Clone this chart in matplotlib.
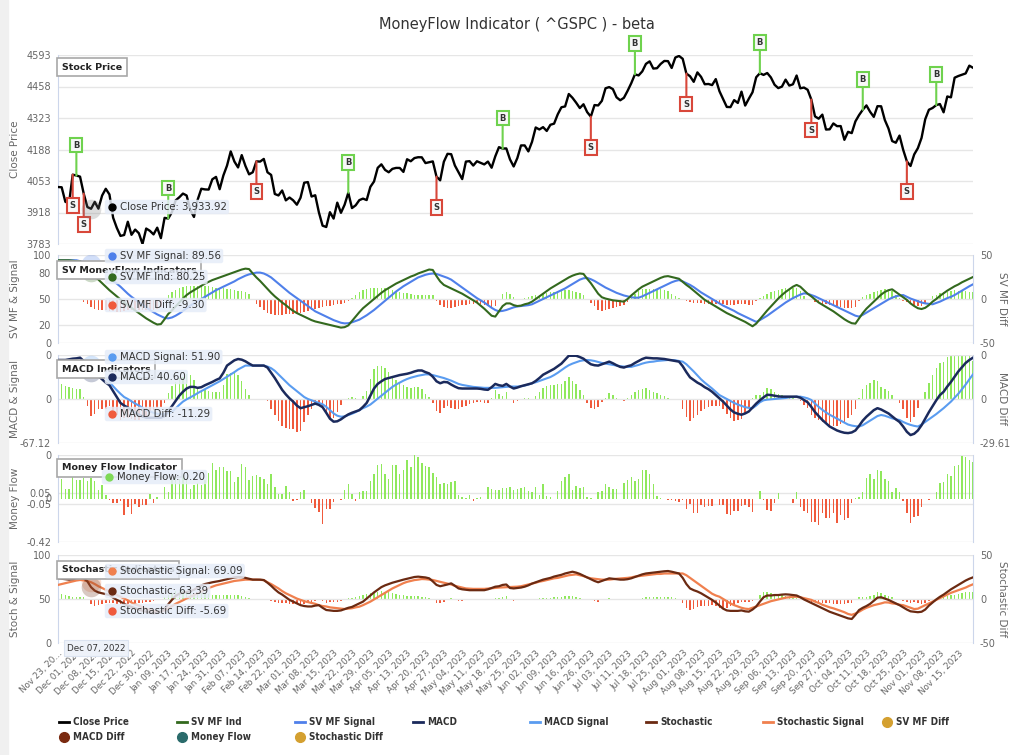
import numpy as np
import matplotlib
matplotlib.use("Agg")
import matplotlib.pyplot as plt
from matplotlib.lines import Line2D
from matplotlib.patches import Rectangle

plt.rcParams['font.family'] = ['DejaVu Sans']

# ---- data (one value per trading day, Nov 23 2022 .. Nov 21 2023) ----
close = [
    4027.26, 4026.12, 3963.94, 3957.63, 4080.11, 4076.57, 4071.70, 3998.84, 3941.26, 3933.92,
    3963.51, 3934.38, 3990.56, 4019.65, 3995.32, 3895.75, 3852.36, 3817.66, 3821.62, 3878.44,
    3822.39, 3844.82, 3829.25, 3783.22, 3849.28, 3839.50, 3824.14, 3852.97, 3808.10, 3895.08,
    3892.09, 3919.25, 3969.61, 3983.17, 3999.09, 3990.97, 3928.86, 3898.85, 3972.61, 4019.81,
    4016.95, 4016.22, 4060.43, 4070.56, 4017.77, 4076.60, 4119.21, 4179.76, 4136.48, 4111.08,
    4164.00, 4117.86, 4081.50, 4090.46, 4137.29, 4136.13, 4147.60, 4090.41, 4079.09, 3997.34,
    3991.05, 4012.32, 3970.04, 3982.24, 3970.15, 3951.39, 3981.35, 4045.64, 4048.42, 3986.37,
    3992.01, 3918.32, 3861.59, 3855.76, 3919.29, 3891.93, 3960.28, 3916.64, 3951.57, 4002.87,
    3936.97, 3948.72, 3970.99, 3977.53, 3971.27, 4027.81, 4050.83, 4109.31, 4124.51, 4100.60,
    4090.38, 4105.02, 4109.11, 4108.94, 4091.95, 4146.22, 4137.64, 4151.32, 4154.87, 4154.52,
    4129.79, 4133.52, 4137.04, 4071.63, 4055.99, 4135.35, 4169.48, 4167.87, 4119.58, 4090.75,
    4061.22, 4136.25, 4138.12, 4119.17, 4137.64, 4130.62, 4124.08, 4136.28, 4109.90, 4158.77,
    4198.05, 4191.98, 4192.63, 4145.58, 4115.24, 4151.28, 4205.45, 4205.52, 4179.83, 4221.02,
    4282.37, 4273.79, 4283.85, 4267.52, 4293.93, 4298.86, 4338.93, 4369.01, 4372.59, 4425.84,
    4409.59, 4388.71, 4365.69, 4381.89, 4348.33, 4328.82, 4378.41, 4376.86, 4396.44, 4450.38,
    4455.59, 4446.82, 4411.59, 4398.95, 4409.53, 4439.26, 4472.16, 4510.04, 4505.42, 4522.79,
    4554.98, 4565.72, 4534.87, 4536.34, 4554.64, 4567.46, 4566.75, 4537.41, 4582.23, 4588.96,
    4576.73, 4513.39, 4501.89, 4478.03, 4518.44, 4499.38, 4467.71, 4468.83, 4464.05, 4489.72,
    4437.86, 4404.33, 4370.36, 4369.71, 4399.77, 4387.55, 4436.01, 4376.31, 4405.71, 4433.31,
    4497.63, 4514.87, 4507.66, 4515.77, 4496.83, 4465.48, 4451.14, 4457.49, 4487.46, 4461.90,
    4467.44, 4505.10, 4450.32, 4453.53, 4443.95, 4402.20, 4330.00, 4320.06, 4337.44, 4273.53,
    4274.51, 4299.70, 4288.05, 4288.39, 4229.45, 4263.75, 4258.19, 4308.50, 4335.66, 4358.24,
    4376.95, 4349.61, 4327.78, 4373.63, 4373.20, 4314.60, 4278.00, 4224.16, 4217.04, 4247.68,
    4186.77, 4137.23, 4117.37, 4166.82, 4193.80, 4237.86, 4317.78, 4358.34, 4365.98, 4378.38,
    4382.78, 4347.35, 4415.24, 4411.55, 4495.70, 4502.88, 4508.24, 4514.02, 4547.38, 4538.19,
]

sv_ind = [
    94, 94, 94, 94, 93.5, 93, 93, 89, 85, 80.25,
    76, 72, 68, 64, 60, 56.5, 53, 49.5, 46, 43,
    40, 37, 34, 31, 28, 25.5, 23, 21, 21.5, 27,
    33, 37, 41.5, 46, 50.5, 54.5, 57.5, 60, 62.5, 65,
    67.5, 69.5, 71.5, 73, 74.5, 76, 77.5, 79, 80.5, 82,
    83.5, 84.5, 84, 79, 74.5, 70.5, 66, 61.5, 57, 53,
    49.5, 46, 43, 39.5, 36.5, 34, 32, 30, 28, 26,
    24.5, 23.5, 22.5, 21.5, 20.5, 19.5, 18.5, 17.5, 18, 20,
    25, 30, 35, 39.5, 43, 46.5, 50, 53.5, 57, 60,
    62.5, 65, 67.5, 69.5, 71.5, 73.5, 75.5, 77, 79, 80.5,
    82, 83.5, 83, 76, 70, 66, 64, 62, 60, 58,
    56, 53.5, 51, 48.5, 46, 42.5, 39, 35, 31, 30,
    36, 42, 45, 45, 43, 42, 42.5, 44, 45, 47,
    50, 53, 56, 59, 62, 64.5, 67, 69.5, 72, 74.5,
    76.5, 78, 79, 78.5, 73, 68, 62, 56, 52, 50.5,
    49.5, 48.5, 48, 47.5, 47, 50, 54, 57.5, 61, 64,
    66, 68, 70, 72, 74, 75.5, 76, 75, 74, 73,
    69.5, 66, 63, 59.5, 56, 52.5, 49, 46.5, 44, 41.5,
    39, 36.5, 34, 32, 30, 28, 26, 24, 21.5, 19,
    22, 27, 32, 37, 41.5, 46, 50.5, 54.5, 58, 61,
    64, 66, 64, 60, 56, 53, 49.5, 46, 43.5, 41,
    38.5, 36, 33, 30, 27, 24.5, 22.5, 22, 28, 34,
    39, 43, 47, 51, 55, 58, 60, 61, 58, 55,
    52, 49, 45, 42, 39.5, 38.6, 40, 43, 47, 50,
    53.5, 56.5, 59.5, 62, 64.5, 66.5, 69, 71, 73, 75,
]

sv_sig = [
    94, 94, 94, 94, 94, 94, 93, 92, 91, 89.56,
    87, 84, 80.5, 77, 73.5, 70.5, 67.5, 64, 60, 56,
    52.5, 49.5, 46.5, 43.5, 40.5, 37.5, 35, 32.5, 30.5, 28.5,
    28, 29, 31, 33.5, 36.5, 39.5, 42.5, 45, 47.5, 50,
    52.5, 55, 57.5, 60, 62, 64, 66, 68, 70, 72.5,
    74.5, 76.5, 78, 79, 80, 80, 79, 77, 74.5, 71,
    67.5, 64, 60.5, 57, 54, 51, 48, 45, 42, 39,
    36, 34, 32, 30, 28, 26, 24.5, 23, 22.3, 22.5,
    23.5, 25, 26.5, 29, 31.5, 34.5, 37.5, 41, 44.5, 48,
    51.5, 55, 58.5, 61.5, 64.5, 67, 69.5, 72, 74.5, 76,
    77.5, 78.5, 79, 78.5, 77, 75.5, 74, 72, 69, 66,
    63, 60, 57, 54, 51, 48.5, 46, 43, 40, 37.5,
    36, 36.5, 37.5, 39, 40.5, 41.5, 42, 42.5, 43, 44,
    46, 48, 50, 52, 54, 56, 58, 60, 62, 64.5,
    67, 69.5, 72, 73.5, 74, 72.5, 70.5, 68, 65.5, 63,
    61, 59, 57, 55.5, 54, 53, 52, 51.5, 51.5, 53,
    55, 57, 59, 61, 63, 65, 67, 69, 70.5, 71.5,
    70, 68, 66, 63.5, 60.5, 57.5, 55, 52.5, 50, 47.5,
    45, 42.5, 40.5, 38.5, 36.5, 34, 32, 30, 28, 26,
    24, 26, 28.5, 31, 34, 37, 40, 43, 46, 48.5,
    51, 53, 55, 56.4, 56, 54.5, 53, 51, 49, 47,
    45, 43, 41, 39, 37, 35, 33, 31, 30, 32,
    34.5, 37, 39.5, 42, 44.5, 47, 49.5, 51.5, 53, 54,
    54.5, 52.5, 50.5, 49, 47.5, 46, 45, 44.5, 44, 45.5,
    47, 49, 51, 52.5, 54.5, 57, 59.5, 62, 64.5, 66.7,
]

macd = [
    59.5, 59.5, 59.5, 60.5, 61.5, 62, 63, 58, 50, 40.6,
    37, 35, 30, 25, 21, 12, 3, -6, -10, -13,
    -17, -21, -24, -26.5, -28.5, -28.5, -28.5, -28.5, -28.5, -26,
    -18, -11, -3, 5, 11, 16, 18.5, 18.5, 17, 18,
    21, 23.5, 26, 29, 31.5, 40, 51, 55, 59, 61,
    60, 57.5, 54, 51, 51, 51, 51, 48, 40, 32,
    23, 14, 7, 1, -4, -10, -14, -12.5, -11, -9,
    -7, -9, -12.5, -21, -30, -34.6, -34, -31, -27, -23.5,
    -21, -19, -17, -12, -6, 5, 16, 23, 27, 30.5,
    32, 33.5, 35, 36.5, 37.5, 38.5, 40, 42, 43.5, 43.5,
    41, 39, 34, 27, 24, 26, 25.5, 22, 19, 16.5,
    16, 16, 16, 16, 16, 15.5, 14.5, 14, 18, 23,
    21, 20, 23, 19, 16, 17.5, 19.5, 21, 22.5, 24,
    27.5, 32, 37, 40, 43, 46, 50, 54, 60, 66,
    66, 66, 64, 61.5, 57, 53, 51.5, 51, 53, 55,
    57, 54.5, 51.5, 49, 48, 50, 51.5, 55, 58, 61,
    63, 62.5, 62, 62, 61.5, 61, 60, 59, 58, 57,
    50, 41, 33, 29, 25, 22, 18, 15, 11, 6,
    1, -4, -10, -16, -20.5, -22.5, -24, -22, -19, -13,
    -7, -2, 2.5, 6.5, 6, 5, 4, 3.6, 3.6, 3.6,
    3.6, 3.6, 2, -1.5, -5, -12, -20, -26, -32, -37,
    -42, -45, -48, -50, -51.5, -52, -51, -48, -41, -33,
    -27, -22, -17, -14, -16, -19, -22, -26.5, -31, -35,
    -42, -50, -55, -53, -48, -40, -30, -20, -11, -2,
    6, 11, 19, 26, 34, 42, 48.5, 55, 59.5, 63,
]

macd_sig = [
    48, 49.5, 51, 52.5, 54, 55, 56, 56.5, 54.5, 51.9,
    47, 42, 37, 32, 26, 19.5, 13.5, 8, 3, 0,
    -3.5, -7, -10, -13.5, -16.5, -19, -21, -22.5, -23.4, -23,
    -22, -19.5, -14.5, -9, -4, -0.5, 2.5, 5.5, 9, 12,
    15, 18, 21, 24, 27, 30.5, 34, 37.5, 41, 45,
    48, 51, 51, 51, 51, 51, 51, 49.5, 47, 43,
    37.5, 32, 26.5, 21, 16.5, 12, 7.5, 3, 0, -2,
    -4, -6, -8, -12, -17, -22, -25.5, -27, -26.5, -24.5,
    -22.5, -20, -17, -14, -11.5, -8.5, -4, 0.5, 5, 9.5,
    14, 18.5, 22, 25, 28, 30.5, 32.5, 34, 35.5, 36.5,
    37.6, 37.5, 36.5, 35, 33.5, 32, 30, 28, 25.5, 23,
    21.5, 20.5, 19.5, 18.5, 18, 17.5, 17, 17, 17, 17,
    17.5, 18, 18.5, 19, 19, 19, 19.5, 20.5, 22, 24,
    25.5, 27.5, 29.5, 31.5, 33.5, 36.5, 40, 44, 48, 51.5,
    54, 56, 58, 59, 59.5, 59, 58, 56.5, 55, 54,
    53, 52, 51, 50, 49.5, 49, 49, 50.5, 52, 54,
    55.5, 56.5, 57, 58, 58.5, 59, 59.5, 59.5, 59, 58,
    57, 53, 47.5, 42, 36, 30, 25, 20.5, 16, 11,
    6, 3, 0, -3, -6, -8.5, -10.5, -12.5, -13.5, -14,
    -10, -5, -2, -1, -0.5, 0, 0.5, 1, 1.5, 2.5,
    3, 3.5, 3.6, 2.5, 1, -1.5, -7, -12, -16.5, -20.5,
    -24, -27, -30, -33, -36, -39, -40.5, -41.5, -42, -40,
    -36.5, -33, -29.5, -26, -24.4, -25.5, -27.5, -29.5, -31, -32,
    -35, -37.5, -39.5, -41, -42, -39, -35, -31, -27, -23,
    -18.5, -14, -9, -4, 2, 8, 15, 22, 30, 37.6,
]

money_flow = [
    0.227, 0.185, 0.09, 0.09, 0.27, 0.18, 0.18, 0.195, 0.17, 0.20,
    0.17, 0.08, 0.13, 0.034, -0.015, -0.04, -0.047, -0.02, -0.16, -0.08,
    -0.15, -0.053, -0.085, -0.063, -0.063, 0.043, -0.04, 0.018, -0.005, 0.108,
    0.066, 0.18, 0.237, 0.185, 0.227, 0.185, 0.089, 0.13, 0.153, 0.13,
    0.18, 0.25, 0.346, 0.28, 0.30, 0.30, 0.27, 0.27, 0.16, 0.204,
    0.333, 0.307, 0.18, 0.217, 0.227, 0.204, 0.185, 0.14, 0.237, 0.108,
    0.043, 0.043, 0.12, 0.066, -0.02, -0.015, 0.066, 0.082, -0.005, -0.047,
    -0.095, -0.127, -0.246, -0.105, -0.105, -0.03, 0.0, -0.015, 0.082, 0.14,
    0.043, -0.02, 0.066, 0.076, 0.076, 0.172, 0.237, 0.323, 0.333, 0.237,
    0.185, 0.323, 0.323, 0.237, 0.28, 0.372, 0.307, 0.43, 0.397, 0.346,
    0.314, 0.30, 0.25, 0.21, 0.14, 0.146, 0.14, 0.163, 0.172, 0.034,
    0.018, 0.002, 0.034, -0.02, 0.003, 0.011, 0.0, 0.108, 0.089, 0.082,
    0.082, 0.098, 0.098, 0.108, 0.082, 0.089, 0.098, 0.114, 0.076, 0.066,
    0.114, 0.034, 0.14, 0.024, 0.011, 0.0, 0.076, 0.172, 0.204, 0.237,
    0.082, 0.12, 0.098, 0.114, 0.018, 0.002, 0.0, 0.066, 0.076, 0.14,
    0.114, 0.089, 0.089, 0.0, 0.146, 0.179, 0.204, 0.172, 0.185, 0.275,
    0.275, 0.237, 0.14, 0.024, 0.008, 0.0, -0.015, -0.015, -0.024, -0.037,
    -0.015, -0.105, -0.056, -0.143, -0.143, -0.063, -0.079, -0.072, -0.072, -0.005,
    -0.063, -0.063, -0.15, -0.163, -0.117, -0.117, -0.072, -0.063, -0.085, -0.13,
    -0.008, 0.076, -0.015, -0.111, -0.117, -0.047, 0.05, 0.0, 0.0, 0.0,
    -0.047, 0.066, -0.085, -0.12, -0.137, -0.224, -0.224, -0.256, -0.137, -0.185,
    -0.19, -0.143, -0.233, -0.16, -0.208, -0.19, -0.04, 0.002, 0.018, 0.066,
    0.195, 0.237, 0.185, 0.28, 0.27, 0.185, 0.172, 0.066, 0.098, 0.066,
    -0.02, -0.143, -0.233, -0.175, -0.169, -0.085, 0.0, -0.015, 0.0, 0.066,
    0.153, 0.163, 0.237, 0.217, 0.314, 0.323, 0.41, 0.397, 0.372, 0.356,
]

stoch = [
    73.5, 73, 72.5, 72, 72.5, 73.5, 74, 73.5, 70, 63.39,
    59.5, 57.5, 56.5, 55.5, 54.5, 51.5, 49, 47, 44.5, 42.5,
    41, 39.5, 38, 36.5, 35.5, 34.5, 33.7, 34.5, 36, 39,
    44, 49, 53.5, 56, 57.5, 58, 59, 60.5, 63, 65.5,
    67, 68, 69, 69.7, 70.5, 71.5, 72.5, 73.5, 74.5, 75,
    74.8, 74, 73, 72, 72, 72, 71.5, 68.5, 65, 61,
    57.5, 55, 52, 49, 47, 45, 43, 42, 41.5, 41.5,
    42.5, 43, 40, 37.5, 37, 36.5, 36.5, 37, 38.5, 40,
    41, 43, 45, 47, 50.5, 54, 57.5, 60.5, 63.5, 65.5,
    67, 68.5, 69.7, 71, 72, 73, 74, 75, 75.4, 75,
    74.5, 73.5, 70, 66, 64.5, 65.5, 66.5, 67.8, 65, 62,
    61, 60.5, 60, 60, 60, 60, 60, 61, 62.5, 64,
    64.5, 66, 66.5, 62.5, 62, 62.5, 63, 64, 65.5, 67.5,
    69, 70.5, 72, 73, 74, 75.5, 76.5, 77.5, 79, 80,
    81, 80, 78.5, 76.5, 74.5, 72.5, 70.5, 69, 70.5, 72,
    73.5, 73, 72.5, 72, 72, 72.5, 73.5, 75, 76.5, 78,
    79, 79.5, 80, 80.5, 81, 81.5, 81.8, 81, 80, 79,
    74, 67, 62, 60, 58.5, 56.5, 54, 51.5, 49, 46,
    42.5, 39, 37, 36.5, 36.5, 36.5, 37, 36, 35.6, 38,
    41.5, 47, 52, 54, 54, 54.5, 54.5, 55, 55.3, 55,
    54.5, 54, 52, 49.5, 47.5, 45.5, 43.5, 41.5, 39.5, 37.5,
    35.5, 34, 32.5, 31, 29.5, 28, 27.3, 32, 37.5, 40,
    42, 44.5, 48, 51.5, 52, 50.5, 49, 47, 45, 43,
    40.5, 38, 36, 35.5, 35, 35.5, 38, 42.5, 46, 49.5,
    52.5, 55, 58, 61, 63.5, 66, 68.5, 71, 73, 74.6,
]

stoch_sig = [
    66, 67, 68, 69, 70, 71, 71.6, 71.2, 70.3, 69.09,
    67, 64.5, 62.5, 60.5, 58.5, 56.5, 54.5, 52.5, 50.5, 48.5,
    46, 44, 42.5, 40.5, 39, 37.5, 36.5, 35.8, 35.6, 37,
    39.5, 42, 44.5, 46.5, 48.5, 50.7, 52.5, 54.5, 56.5, 58.5,
    60.5, 62.5, 64, 65.5, 66.5, 67.5, 68.5, 69.5, 70.5, 71,
    71.5, 72, 72, 72, 72, 71.8, 71.5, 69, 67, 64.5,
    62, 59, 56.5, 54.5, 52.5, 50.5, 49, 47.5, 46.5, 45.5,
    44.5, 43, 42, 41.5, 40.5, 40, 39.5, 39, 38.6, 39,
    39.5, 40.5, 41.3, 43, 45, 47, 49.5, 52, 54.5, 57,
    59.5, 62, 64, 66, 68, 69.5, 70.5, 71.5, 72, 72.7,
    72.5, 72, 71.6, 70.5, 69.5, 68.5, 67.5, 66.5, 65, 64,
    63, 62, 61.7, 61.5, 61.5, 61.5, 61.5, 61.8, 62.2, 62.6,
    63, 63.2, 63.5, 63.7, 63.8, 64, 64.5, 65.5, 66.5, 67.5,
    68.5, 69.7, 70.5, 71.5, 72.5, 73.5, 74, 75, 76, 77,
    77.5, 78, 77, 76, 74.5, 73.5, 73, 72.5, 72, 72,
    72, 72.5, 73, 73.3, 73.5, 74, 74.5, 75.5, 76, 76.5,
    77, 77.5, 78, 78.5, 78.5, 79, 79, 79, 79, 79,
    79, 77, 74, 71, 68, 65, 62, 59, 56, 54,
    52.6, 50, 47.5, 45, 43, 41.5, 40, 39, 38.6, 40,
    41.5, 43, 44.5, 46, 47.5, 48.5, 49.5, 50.5, 51.5, 52,
    52.5, 52.6, 52, 51, 50, 49, 47, 45.5, 43.5, 42,
    40.5, 39.4, 38, 36.5, 35, 33, 32, 33.5, 35.5, 38,
    40, 41.5, 43, 44, 45, 46.2, 46, 45, 44.5, 43.5,
    43, 41.5, 40, 38.6, 39, 41, 43, 45, 47, 49,
    51, 53, 55, 57, 58.5, 60, 61.5, 63, 65, 66.7,
]

tick_labels = [
    'Nov 23, 20\u2026', 'Dec 01, 2022', 'Dec 08, 2022', 'Dec 15, 2022', 'Dec 22, 2022',
    'Dec 30, 2022', 'Jan 09, 2023', 'Jan 17, 2023', 'Jan 24, 2023', 'Jan 31, 2023',
    'Feb 07, 2023', 'Feb 14, 2023', 'Feb 22, 2023', 'Mar 01, 2023', 'Mar 08, 2023',
    'Mar 15, 2023', 'Mar 22, 2023', 'Mar 29, 2023', 'Apr 05, 2023', 'Apr 13, 2023',
    'Apr 20, 2023', 'Apr 27, 2023', 'May 04, 2023', 'May 11, 2023', 'May 18, 2023',
    'May 25, 2023', 'Jun 02, 2023', 'Jun 09, 2023', 'Jun 16, 2023', 'Jun 26, 2023',
    'Jul 03, 2023', 'Jul 11, 2023', 'Jul 18, 2023', 'Jul 25, 2023', 'Aug 01, 2023',
    'Aug 08, 2023', 'Aug 15, 2023', 'Aug 22, 2023', 'Aug 29, 2023', 'Sep 06, 2023',
    'Sep 13, 2023', 'Sep 20, 2023', 'Sep 27, 2023', 'Oct 04, 2023', 'Oct 11, 2023',
    'Oct 18, 2023', 'Oct 25, 2023', 'Nov 01, 2023', 'Nov 08, 2023', 'Nov 15, 2023',
]

buy_idx = [5, 30, 79, 121, 157, 191, 219, 239]
sell_idx = [4, 7, 54, 103, 145, 171, 205, 231]
hover = 9  # Dec 07, 2022

close = np.array(close)
sv_ind, sv_sig = np.array(sv_ind), np.array(sv_sig)
macd, macd_sig = np.array(macd), np.array(macd_sig)
stoch, stoch_sig = np.array(stoch), np.array(stoch_sig)
money_flow = np.array(money_flow)
sv_diff = sv_ind - sv_sig
macd_diff = macd - macd_sig
stoch_diff = stoch - stoch_sig
x = np.arange(len(close))

# ---- colours ----
TXT = '#666666'
GRID = '#e6e6e6'
AXLINE = '#ccd6eb'
GREEN_BAR = '#8fe85c'
RED_BAR = '#f05a3c'
C_IND = '#33691e'
C_SIG = '#4f80ea'
C_MACD = '#1b2a5c'
C_MSIG = '#5a9cf0'
C_STO = '#6b2a12'
C_SSIG = '#f0804e'

W, H = 1024, 755
fig = plt.figure(figsize=(W / 100, H / 100), dpi=100)
fig.patches.append(Rectangle((0, 0), 8 / W, 1, transform=fig.transFigure,
                             color='#f0f0f0', zorder=0))


def panel(top, bottom):
    return fig.add_axes([58 / W, 1 - bottom / H, 915 / W, (bottom - top) / H])


def style(ax, ylim, ticks, labels, grid, title):
    ax.set_xlim(0, len(x) - 1)
    ax.set_ylim(*ylim)
    ax.set_yticks(ticks)
    ax.set_yticklabels(labels)
    ax.set_xticks([])
    ax.tick_params(axis='y', length=0, pad=5, labelsize=7, labelcolor=TXT)
    for s in ['top', 'right', 'bottom']:
        ax.spines[s].set_visible(False)
    ax.spines['left'].set_color(AXLINE)
    for g in grid:
        ax.axhline(g, color=GRID, lw=1, zorder=0)
    ax.set_ylabel(title, color=TXT, fontsize=7.5)
    ax.yaxis.set_label_coords(-0.041, 0.5)
    ax.patch.set_visible(False)


def right_axis(ax, ylim, ticks, labels, title):
    ax2 = ax.twinx()
    ax2.set_ylim(*ylim)
    ax2.set_yticks(ticks)
    ax2.set_yticklabels(labels)
    ax2.tick_params(axis='y', length=0, pad=5, labelsize=7, labelcolor=TXT)
    for s in ['top', 'left', 'bottom']:
        ax2.spines[s].set_visible(False)
    ax2.spines['right'].set_color(AXLINE)
    ax2.set_ylabel(title, color=TXT, fontsize=7.5, rotation=270)
    ax2.yaxis.set_label_coords(1.037, 0.5)
    ax.set_zorder(ax2.get_zorder() + 1)
    return ax2


def diff_bars(ax, vals):
    cols = [GREEN_BAR if v >= 0 else RED_BAR for v in vals]
    ax.bar(x, vals, width=0.4, color=cols, linewidth=0, zorder=1)


def halo(ax, y, color):
    ax.scatter([hover], [y], s=200, color=color, alpha=0.25, linewidths=0, zorder=6)


# ---- price panel ----
ax1 = panel(55, 244)
pt = [3783, 3918, 4053, 4188, 4323, 4458, 4593]
style(ax1, (3783, 4593), pt, [str(v) for v in pt], pt, 'Close Price')
ax1.plot(x, close, color='black', lw=1.7, zorder=3)
halo(ax1, close[hover], '#777777')
for i in buy_idx:
    ax1.annotate('B', xy=(i, close[i]), xytext=(0, 26), textcoords='offset pixels',
                 ha='center', va='bottom', fontsize=6, fontweight='bold', color='#333',
                 bbox=dict(boxstyle='square,pad=0.35', fc='#f8f8f8', ec='#6fd24e', lw=1.5),
                 arrowprops=dict(arrowstyle='-', color='#6fd24e', lw=1.5,
                                 shrinkA=0, shrinkB=0), zorder=4)
for i in sell_idx:
    ax1.annotate('S', xy=(i, close[i]), xytext=(0, -26), textcoords='offset pixels',
                 ha='center', va='top', fontsize=6, fontweight='bold', color='#333',
                 bbox=dict(boxstyle='square,pad=0.35', fc='#f8f8f8', ec='#d8473a', lw=1.5),
                 arrowprops=dict(arrowstyle='-', color='#d8473a', lw=1.5,
                                 shrinkA=0, shrinkB=0), zorder=4)

# ---- SV MoneyFlow panel ----
ax2 = panel(255, 343)
style(ax2, (0, 100), [0, 20, 50, 80, 100], ['0', '20', '50', '80', '100'],
      [0, 20, 50, 80, 100], 'SV MF & Signal')
ax2r = right_axis(ax2, (-50, 50), [-50, 0, 50], ['-50', '0', '50'], 'SV MF Diff')
diff_bars(ax2r, sv_diff)
ax2.plot(x, sv_sig, color=C_SIG, lw=1.5, zorder=3)
ax2.plot(x, sv_ind, color=C_IND, lw=1.5, zorder=3)
halo(ax2, sv_sig[hover], C_SIG)
halo(ax2, sv_ind[hover], C_IND)

# ---- MACD panel ----
ax3 = panel(355, 443)
style(ax3, (-67.12, 67.12), [-67.12, 0, 67.12], ['-67.12', '0', '0'],
      [-67.12, 0, 67.12], 'MACD & Signal')
ax3r = right_axis(ax3, (-29.61, 29.61), [-29.61, 0, 29.61],
                  ['-29.61', '0', '0'], 'MACD Diff')
diff_bars(ax3r, macd_diff)
ax3.plot(x, macd_sig, color=C_MSIG, lw=1.5, zorder=3)
ax3.plot(x, macd, color=C_MACD, lw=1.8, zorder=3)
halo(ax3, macd_sig[hover], C_MSIG)
halo(ax3, macd[hover], C_MACD)

# ---- Money flow panel ----
ax4 = panel(455, 542)
style(ax4, (-0.42, 0.42), [-0.42, -0.05, 0, 0.05, 0.42],
      ['-0.42', '-0.05', '0', '0.05', '0'],
      [-0.42, -0.05, 0.05, 0.42], 'Money Flow')
ax4.spines['right'].set_visible(True)
ax4.spines['right'].set_color(AXLINE)
diff_bars(ax4, money_flow)

# ---- Stochastic panel ----
ax5 = panel(555, 643)
style(ax5, (0, 100), [0, 50, 100], ['0', '50', '100'], [0, 50, 100], 'Stoch & Signal')
ax5r = right_axis(ax5, (-50, 50), [-50, 0, 50], ['-50', '0', '50'], 'Stochastic Diff')
diff_bars(ax5r, stoch_diff)
ax5.plot(x, stoch_sig, color=C_SSIG, lw=1.6, zorder=3)
ax5.plot(x, stoch, color=C_STO, lw=1.6, zorder=3)
halo(ax5, stoch_sig[hover], C_SSIG)
halo(ax5, stoch[hover], C_STO)
ax5.set_xticks(np.arange(0, len(x), 5))
ax5.set_xticklabels(tick_labels, rotation=45, ha='right', va='top',
                    rotation_mode='anchor', fontsize=6.3, color=TXT)
ax5.tick_params(axis='x', length=0, pad=4)

# ---- title ----
fig.text(0.505, 1 - 25 / H, 'MoneyFlow Indicator ( ^GSPC ) - beta', ha='center',
         va='center', fontsize=10.5, color='#333333')

# ---- panel labels ----
for ypx, name in [(67, 'Stock Price'), (270, 'SV MoneyFlow Indicators'),
                  (369, 'MACD Indicators'), (468, 'Money Flow Indicator'),
                  (570, 'Stochastic Indicators')]:
    fig.text(62 / W, 1 - ypx / H, name, ha='left', va='center', fontsize=6.8,
             fontweight='bold', color='#222222', zorder=20,
             bbox=dict(boxstyle='square,pad=0.5', fc='white', ec='#a8a8a8', lw=1.2))

# ---- split tooltip at Dec 07, 2022 ----
tips = [
    (107, 207, 'black', 'Close Price', '3,933.92'),
    (107, 256, C_SIG, 'SV MF Signal', '89.56'),
    (107, 277, C_IND, 'SV MF Ind', '80.25'),
    (107, 305, RED_BAR, 'SV MF Diff', '-9.30'),
    (107, 357, C_MSIG, 'MACD Signal', '51.90'),
    (107, 377, C_MACD, 'MACD', '40.60'),
    (107, 414, RED_BAR, 'MACD Diff', '-11.29'),
    (104, 477, '#7ed957', 'Money Flow', '0.20'),
    (107, 571, C_SSIG, 'Stochastic Signal', '69.09'),
    (107, 591, C_STO, 'Stochastic', '63.39'),
    (107, 611, RED_BAR, 'Stochastic Diff', '-5.69'),
]
for xp, yp, c, lab, val in tips:
    yf = 1 - yp / H
    fig.text(xp / W, yf, '    %s: %s' % (lab, val), ha='left', va='center',
             fontsize=7.3, color='#333333', zorder=21,
             bbox=dict(boxstyle='round,pad=0.22', fc='#e6edf8', ec='none', alpha=0.85))
    fig.add_artist(Line2D([(xp + 5) / W], [yf], marker='o', markersize=5, color=c,
                          lw=0, transform=fig.transFigure, zorder=22))

fig.text(96 / W, 1 - 648 / H, 'Dec 07, 2022', ha='center', va='center', fontsize=6.3,
         color='#333333', zorder=21,
         bbox=dict(boxstyle='square,pad=0.35', fc='#eef2f9', ec='#dbe3f0', lw=0.8))

# ---- legend ----
legend_items = [
    (59, 722, 'Close Price', 'line', 'black'),
    (177, 722, 'SV MF Ind', 'line', C_IND),
    (295, 722, 'SV MF Signal', 'line', C_SIG),
    (413, 722, 'MACD', 'line', C_MACD),
    (530, 722, 'MACD Signal', 'line', C_MSIG),
    (646, 722, 'Stochastic', 'line', C_STO),
    (763, 722, 'Stochastic Signal', 'line', C_SSIG),
    (882, 722, 'SV MF Diff', 'dot', '#d4a030'),
    (59, 737, 'MACD Diff', 'dot', '#7a2a10'),
    (177, 737, 'Money Flow', 'dot', '#2a6b6b'),
    (295, 737, 'Stochastic Diff', 'dot', '#d4a030'),
]
for xp, yp, lab, kind, c in legend_items:
    yf = 1 - yp / H
    if kind == 'line':
        fig.add_artist(Line2D([xp / W, (xp + 10) / W], [yf, yf], color=c, lw=2,
                              transform=fig.transFigure))
    else:
        fig.add_artist(Line2D([(xp + 5) / W], [yf], marker='o', markersize=7,
                              color=c, lw=0, transform=fig.transFigure))
    fig.text((xp + 14) / W, yf, lab, ha='left', va='center', fontsize=7.1,
             fontweight='bold', fontstretch='condensed', color='#333333')

fig.savefig('out.png', dpi=100)
